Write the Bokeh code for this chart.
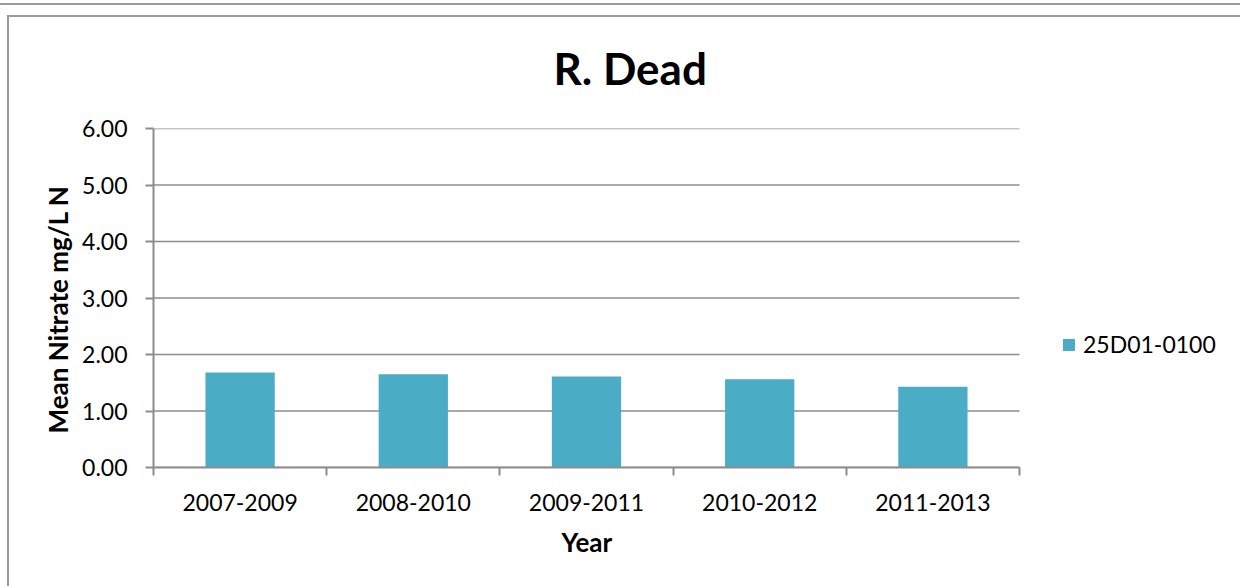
from bokeh.plotting import figure
from bokeh.models import Range1d, FixedTicker, NumeralTickFormatter, Legend, LegendItem, Title
from bokeh.embed import file_html
from bokeh.resources import INLINE

title_text = "R. Dead"
x_title = "Year"
y_title = "Mean Nitrate mg/L N"
categories = ["2007-2009", "2008-2010", "2009-2011", "2010-2012", "2011-2013"]
series_name = "25D01-0100"
values = [1.68, 1.65, 1.61, 1.56, 1.43]
y_ticks = [0, 1, 2, 3, 4, 5, 6]

FONT = "Lato"
GRAY = "#8c8c8c"
FRAME = "#9a9a9a"
BAR = "#4BACC6"

n = len(categories)
centers = [i + 0.5 for i in range(n)]
bounds = list(range(n + 1))

W, H = 1240, 586
PLOT_L, PLOT_R, FRAME_R = 153, 1019, 1230
x_end = n * (FRAME_R - PLOT_L) / (PLOT_R - PLOT_L)

p = figure(width=W, height=H, output_backend="svg", toolbar_location=None,
           x_range=Range1d(0, x_end), y_range=Range1d(0, 6),
           min_border_left=PLOT_L, min_border_right=W - FRAME_R,
           min_border_top=128, min_border_bottom=H - 467)
p.border_fill_color = None
p.background_fill_color = "white"
p.styles = {
    "background-color": "white",
    "box-shadow": (f"inset 0 3px 0 white, inset 0 5px 0 {FRAME}, inset 7px 0 0 white, "
                   f"inset 0 15px 0 white, inset 0 17px 0 {FRAME}, inset 9px 0 0 {FRAME}"),
}

# horizontal gridlines limited to the category span
p.segment(x0=[0] * len(y_ticks), y0=y_ticks, x1=[n] * len(y_ticks), y1=y_ticks,
          line_color=GRAY, line_width=1.5)

r = p.vbar(x=centers, top=values, width=0.4, color=BAR, line_color=None)

p.title.text = title_text
p.title.align = "left"
p.title.offset = 400
p.title.text_font = FONT
p.title.text_font_size = "44px"
p.title.text_font_style = "bold"
p.title.text_color = "black"
p.title.standoff = 70

xa = p.xaxis[0]
xa.bounds = (0, n)
xa.ticker = FixedTicker(ticks=centers, minor_ticks=bounds)
xa.major_label_overrides = {c: lab for c, lab in zip(centers, categories)}
xa.major_tick_line_color = None
xa.major_tick_out = 8
xa.major_tick_in = 0
xa.minor_tick_line_color = GRAY
xa.minor_tick_line_width = 2
xa.minor_tick_out = 8
xa.minor_tick_in = 0
xa.axis_line_color = GRAY
xa.axis_line_width = 2
xa.major_label_standoff = 18
xa.major_label_text_font = FONT
xa.major_label_text_font_size = "23px"
xa.major_label_text_color = "black"

ya = p.yaxis[0]
ya.ticker = FixedTicker(ticks=y_ticks)
ya.formatter = NumeralTickFormatter(format="0.00")
ya.major_tick_line_color = GRAY
ya.major_tick_line_width = 2
ya.major_tick_out = 8
ya.major_tick_in = 0
ya.minor_tick_line_color = None
ya.axis_line_color = GRAY
ya.axis_line_width = 2
ya.major_label_standoff = 18
ya.major_label_text_font = FONT
ya.major_label_text_font_size = "23px"
ya.major_label_text_color = "black"

xt = Title(text=x_title, align="left", offset=408, standoff=21,
           text_font=FONT, text_font_size="26px", text_font_style="bold", text_color="black")
p.add_layout(xt, "below")
yt = Title(text=y_title, align="left", offset=34, standoff=12,
           text_font=FONT, text_font_size="26px", text_font_style="bold", text_color="black")
p.add_layout(yt, "left")

p.xgrid.grid_line_color = None
p.ygrid.grid_line_color = None
p.outline_line_color = None

legend = Legend(items=[LegendItem(label=series_name, renderers=[r])],
                location=(908, 109), orientation="vertical",
                padding=0, margin=0, border_line_color=None, background_fill_alpha=0,
                glyph_width=15, glyph_height=15, label_standoff=7,
                label_text_font=FONT, label_text_font_size="23px", label_text_color="black")
p.add_layout(legend, "center")

open("out.html", "w").write(file_html(p, INLINE))
